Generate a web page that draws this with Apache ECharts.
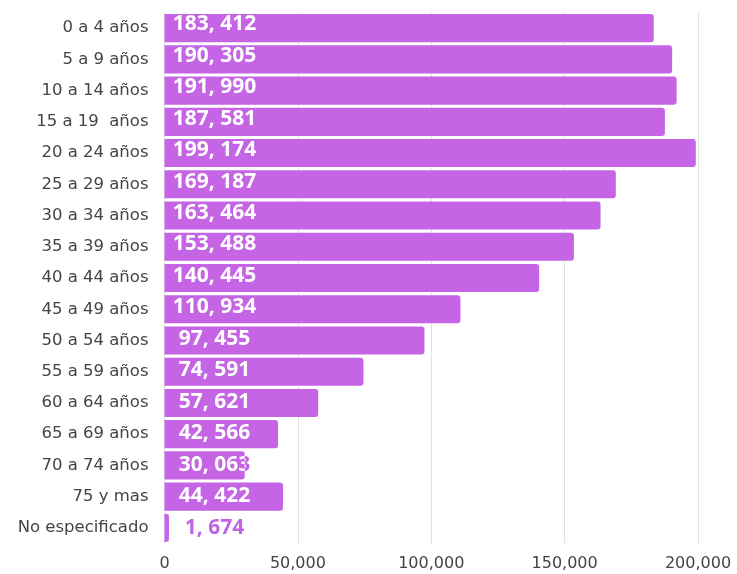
<!DOCTYPE html>
<html>
<head>
<meta charset="utf-8">
<script src="https://cdn.jsdelivr.net/npm/echarts@6/dist/echarts.min.js"></script>
<style>
  html, body { margin: 0; padding: 0; background: #ffffff; }
  #chart { width: 737px; height: 574px; }
</style>
</head>
<body>
<div id="chart"></div>
<script>
// Población por grupo de edad
const categories = [
  '0 a 4 años', '5 a 9 años', '10 a 14 años', '15 a 19  años', '20 a 24 años',
  '25 a 29 años', '30 a 34 años', '35 a 39 años', '40 a 44 años', '45 a 49 años',
  '50 a 54 años', '55 a 59 años', '60 a 64 años', '65 a 69 años', '70 a 74 años',
  '75 y mas', 'No especificado'
];
const poblacion = [
  183412, 190305, 191990, 187581, 199174,
  169187, 163464, 153488, 140445, 110934,
  97455, 74591, 57621, 42566, 30063,
  44422, 1674
];
const xTicks = [0, 50000, 100000, 150000, 200000];

const BAR_COLOR = '#c565e6';
const TEXT_PURPLE = '#bf64e2';

// "183, 412" style value text
function fmtValue(v) {
  const miles = Math.floor(v / 1000);
  const resto = String(v % 1000).padStart(3, '0');
  return miles + ', ' + resto;
}
function fmtTick(v) {
  return String(v).replace(/\B(?=(\d{3})+(?!\d))/g, ',');
}

const n = categories.length;

const chart = echarts.init(document.getElementById('chart'), null, { renderer: 'canvas' });

chart.setOption({
  animation: false,
  backgroundColor: '#ffffff',
  grid: { left: 164.5, right: 39, top: 12.5, bottom: 30.5, containLabel: false },
  xAxis: {
    type: 'value',
    min: xTicks[0],
    max: xTicks[xTicks.length - 1],
    interval: xTicks[1] - xTicks[0],
    axisLine: { show: false },
    axisTick: { show: false },
    splitLine: { show: true, lineStyle: { color: '#e2e2e2', width: 1 } },
    axisLabel: {
      color: '#444444',
      fontFamily: 'DejaVu Sans',
      fontSize: 16,
      margin: 12,
      formatter: fmtTick
    }
  },
  yAxis: {
    type: 'category',
    data: categories,
    inverse: true,
    axisLine: { show: false },
    axisTick: { show: false },
    splitLine: { show: false },
    axisLabel: {
      color: '#444444',
      fontFamily: 'DejaVu Sans',
      fontSize: 16.5,
      margin: 16
    }
  },
  series: [
    {
      type: 'bar',
      data: poblacion,
      barCategoryGap: '10%',
      itemStyle: {
        color: BAR_COLOR,
        borderRadius: [0, 3, 3, 0]
      },
      z: 2
    },
    {
      // value labels: purple where they run past the bar, white over the bar
      type: 'custom',
      z: 5,
      data: poblacion.map((v, i) => [v, i]),
      renderItem: function (params, api) {
        const v = api.value(0);
        const idx = api.value(1);
        const start = api.coord([0, idx]);
        const end = api.coord([v, idx]);
        const band = api.size([0, 1])[1];
        const h = band * 0.9;
        const cy = start[1] - 4 + 4 * idx / (n - 1);
        const tx = start[0] + 50;
        const label = fmtValue(v);
        const font = 'bold 21px "Open Sans"';
        return {
          type: 'group',
          children: [
            {
              type: 'text',
              style: {
                x: tx, y: cy, text: label, font: font,
                fill: TEXT_PURPLE, align: 'center', verticalAlign: 'middle'
              }
            },
            {
              type: 'text',
              style: {
                x: tx, y: cy, text: label, font: font,
                fill: '#ffffff', align: 'center', verticalAlign: 'middle'
              },
              clipPath: {
                type: 'rect',
                shape: { x: start[0], y: start[1] - h / 2, width: end[0] - start[0], height: h }
              }
            }
          ]
        };
      }
    }
  ]
});
</script>
</body>
</html>
